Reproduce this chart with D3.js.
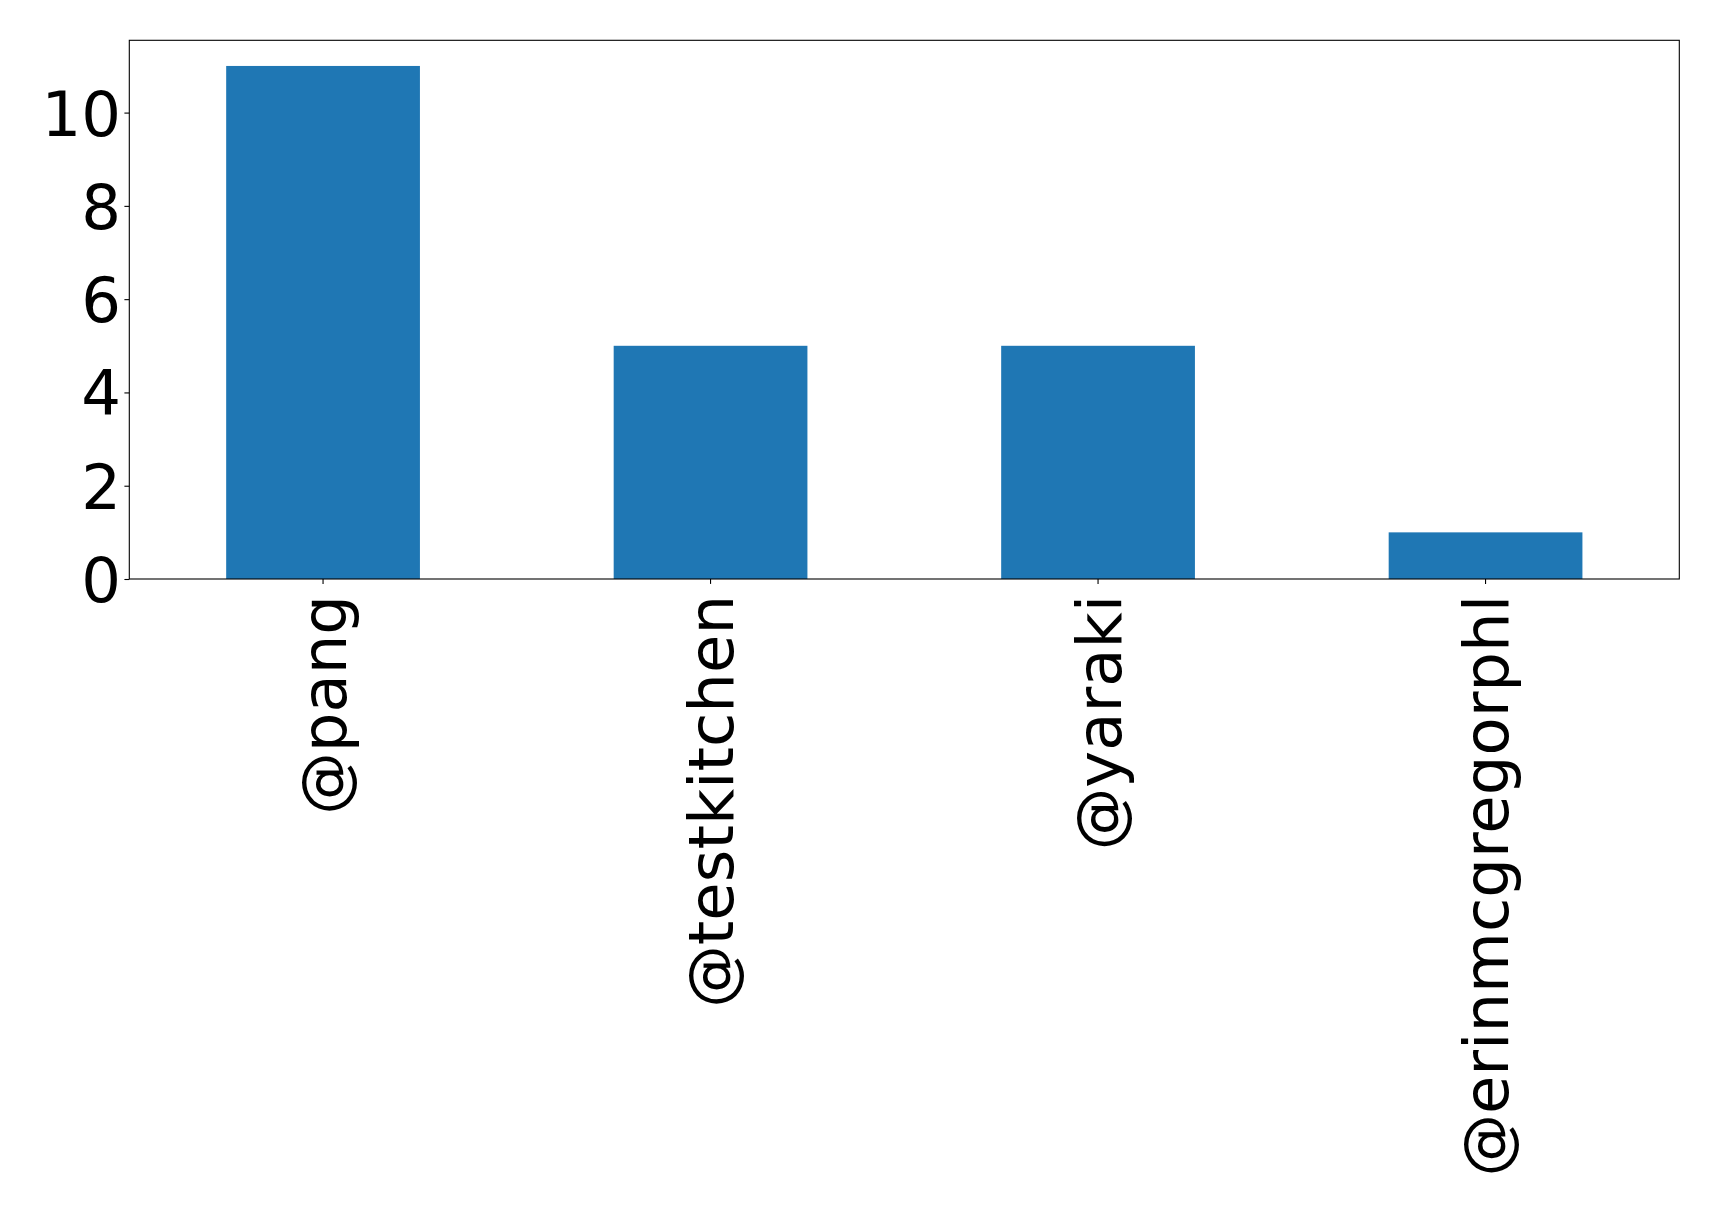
<!DOCTYPE html>
<html><head><meta charset="utf-8">
<script src="https://cdn.jsdelivr.net/npm/d3@7"></script>
<style>
html,body{margin:0;padding:0;background:#fff;}
svg{display:block;}
text{font-family:"DejaVu Sans",sans-serif;fill:#000;}
</style></head>
<body>
<script>
const categories = ["@pang", "@testkitchen", "@yaraki", "@erinmcgregorphl"];
const values = [11, 5, 5, 1];
const yTicks = [0, 2, 4, 6, 8, 10];

const W = 1719, H = 1210;
const m = {left: 129.3, top: 40.3, right: 1679.3, bottom: 579};
const fontPx = 62.5;

const svg = d3.select("body").append("svg").attr("width", W).attr("height", H);
svg.append("rect").attr("width", W).attr("height", H).attr("fill", "#fff");

const x = d3.scaleBand().domain(categories).range([m.left, m.right]).paddingInner(0.5).paddingOuter(0.25);
const y = d3.scaleLinear().domain([0, 11 * 1.05]).range([m.bottom, m.top]);

svg.selectAll("rect.bar").data(values).enter().append("rect")
  .attr("class", "bar")
  .attr("x", (d, i) => x(categories[i]))
  .attr("width", x.bandwidth())
  .attr("y", d => y(d))
  .attr("height", d => y(0) - y(d))
  .attr("fill", "#1f77b4");

// frame
svg.append("rect").attr("x", m.left).attr("y", m.top)
  .attr("width", m.right - m.left).attr("height", m.bottom - m.top)
  .attr("fill", "none").attr("stroke", "#000").attr("stroke-width", 1.1);

// y axis
const yAxis = d3.axisLeft(y).tickValues(yTicks).tickSize(4.9).tickPadding(3.5).tickFormat(d3.format("d"));
const gy = svg.append("g").attr("transform", `translate(${m.left},0)`).call(yAxis);
gy.select(".domain").remove();
gy.selectAll("text").style("font-size", fontPx + "px").style("font-family", "'DejaVu Sans',sans-serif").attr("fill", "#000").attr("dy", "0.36em");
gy.selectAll("line").attr("stroke", "#000").attr("stroke-width", 1.1);

// x axis
const xAxis = d3.axisBottom(x).tickSize(4.9).tickPadding(6);
const gx = svg.append("g").attr("transform", `translate(0,${m.bottom})`).call(xAxis);
gx.select(".domain").remove();
gx.selectAll("line").attr("stroke", "#000").attr("stroke-width", 1.1);
gx.selectAll("text")
  .style("font-size", fontPx + "px").style("font-family", "'DejaVu Sans',sans-serif")
  .attr("fill", "#000")
  .attr("text-anchor", "end")
  .attr("x", 0).attr("y", 0)
  .attr("dy", "0.36em")
  .attr("transform", "translate(0,16) rotate(-90)");
</script>
</body></html>
